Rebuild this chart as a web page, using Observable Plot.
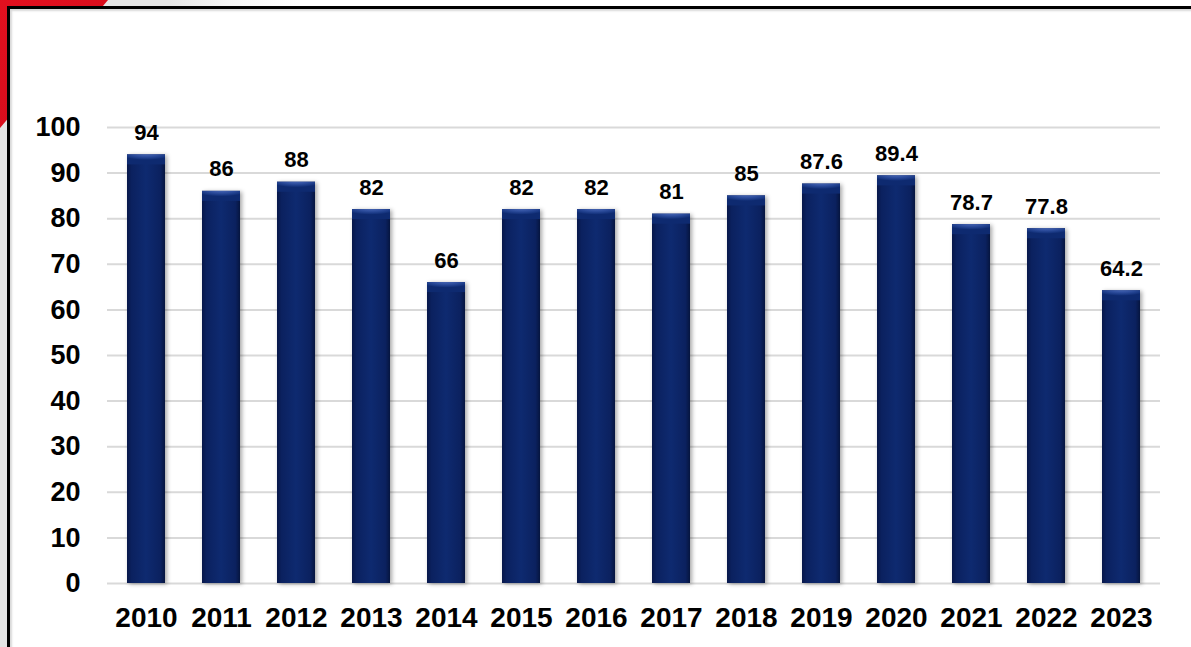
<!DOCTYPE html>
<html>
<head>
<meta charset="utf-8">
<script src="https://cdn.jsdelivr.net/npm/d3@7"></script>
<script src="https://cdn.jsdelivr.net/npm/@observablehq/plot@0.6"></script>
<style>
  html, body { margin: 0; padding: 0; background: #fff; }
  #wrap { position: relative; width: 1191px; height: 647px; overflow: hidden; background: #fff; }
  #topstrip { position: absolute; left: 0; top: 0; width: 1191px; height: 8px;
    background: linear-gradient(to right, #e6e6e6 0px, #e6e6e6 170px, #f6f6f6 230px, #ffffff 300px); }
  #leftstrip { position: absolute; left: 0; top: 0; width: 9px; height: 647px; background: #e4e4e4; }
  #red { position: absolute; left: 0; top: 0; width: 108px; height: 128px;
    background: linear-gradient(135deg, #e3101f 0%, #d80d1c 60%, #c80a18 100%);
    clip-path: polygon(0 0, 100% 0, 0 100%); }
  #frame { position: absolute; left: 7px; top: 6px; width: 1200px; height: 660px;
    border-top: 3px solid #000; border-left: 3px solid #000; background: #fff;
    box-shadow: inset 2px 2px 2px rgba(0,0,0,0.15); }
  #chart { position: absolute; left: 0; top: 0; }
</style>
</head>
<body>
<div id="wrap">
  <div id="topstrip"></div>
  <div id="leftstrip"></div>
  <div id="red"></div>
  <div id="frame"></div>
  <div id="chart"></div>
</div>
<script>
const years = ["2010","2011","2012","2013","2014","2015","2016","2017","2018","2019","2020","2021","2022","2023"];
const values = [94, 86, 88, 82, 66, 82, 82, 81, 85, 87.6, 89.4, 78.7, 77.8, 64.2];
const yTicks = [0, 10, 20, 30, 40, 50, 60, 70, 80, 90, 100];

const data = years.map((year, i) => ({year, value: values[i]}));

const plot = Plot.plot({
  width: 1191,
  height: 647,
  marginLeft: 107,
  marginRight: 31,
  marginTop: 127,
  marginBottom: 64,
  style: { fontFamily: "'Liberation Sans', Arial, sans-serif", fontWeight: "bold", background: "transparent", color: "#000" },
  x: { type: "band", domain: years, paddingInner: 0.5, paddingOuter: 0.25 },
  y: { domain: [0, 100] },
  marks: [
    Plot.gridY(yTicks, { stroke: "#d9d9d9", strokeOpacity: 1, strokeWidth: 2 }),
    Plot.axisY(yTicks, { tickSize: 0, tickPadding: 27, fontSize: 27, fontWeight: "bold", label: null }),
    Plot.axisX({ tickSize: 0, tickPadding: 24, fontSize: 28, fontWeight: "bold", label: null }),
    Plot.barY(data, { x: "year", y: "value", fill: "url(#barGrad)" }),
    Plot.barY(data, { x: "year", y1: d => d.value - 2.2, y2: "value", fill: "url(#topGrad)" }),
    Plot.text(data, { x: "year", y: "value", text: d => String(d.value), dy: -22, fontSize: 22, fontWeight: "bold", fill: "#000" })
  ]
});

const svg = d3.select(plot);
const defs = svg.insert("defs", ":first-child");
const g1 = defs.append("linearGradient").attr("id", "barGrad").attr("x1", 0).attr("x2", 1).attr("y1", 0).attr("y2", 0);
[[0, "#07174a"], [0.12, "#0b215f"], [0.5, "#0e2a70"], [0.88, "#0b215f"], [1, "#06153f"]]
  .forEach(([o, c]) => g1.append("stop").attr("offset", o).attr("stop-color", c));
const g2 = defs.append("radialGradient").attr("id", "topGrad")
  .attr("cx", 0.5).attr("cy", -0.2).attr("r", 0.75).attr("fx", 0.5).attr("fy", -0.2);
[[0, "#5a78c4"], [0.55, "#2e4e9e"], [0.85, "#183782"], [1, "#0e2a70"]]
  .forEach(([o, c]) => g2.append("stop").attr("offset", o).attr("stop-color", c));

const bars = plot.querySelectorAll('g[aria-label="bar"]');
if (bars[0]) bars[0].style.filter = "drop-shadow(2px 1px 2px rgba(0,0,0,0.35))";

document.getElementById("chart").appendChild(plot);
</script>
</body>
</html>
